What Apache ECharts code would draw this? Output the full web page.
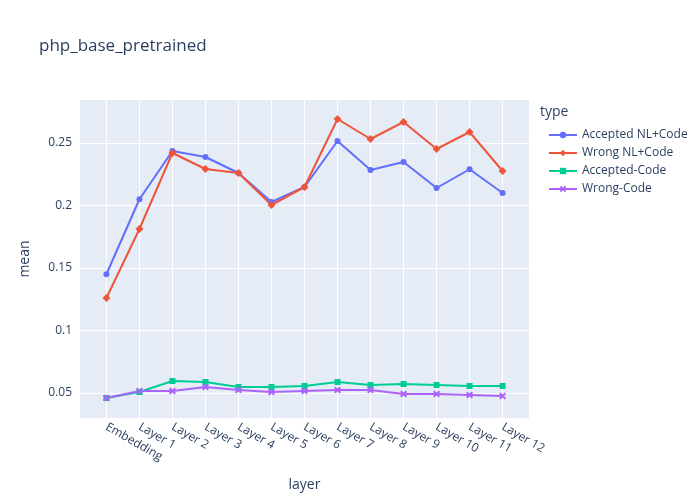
<!DOCTYPE html>
<html>
<head>
<meta charset="utf-8">
<script src="https://cdn.jsdelivr.net/npm/echarts@6/dist/echarts.min.js"></script>
<style>html,body{margin:0;padding:0;background:#fff}#chart{width:700px;height:500px}</style>
</head>
<body>
<div id="chart"></div>
<script>
const layers = ['Embedding', 'Layer 1', 'Layer 2', 'Layer 3', 'Layer 4', 'Layer 5', 'Layer 6',
  'Layer 7', 'Layer 8', 'Layer 9', 'Layer 10', 'Layer 11', 'Layer 12'];
const acceptedNL = [0.145, 0.205, 0.2436, 0.2388, 0.226, 0.2028, 0.2148, 0.2516, 0.2284, 0.2348, 0.214, 0.229, 0.21];
const wrongNL = [0.126, 0.1812, 0.242, 0.2292, 0.226, 0.2004, 0.2148, 0.2692, 0.2532, 0.2668, 0.2452, 0.2588, 0.2276];
const acceptedCode = [0.046, 0.0508, 0.0596, 0.0588, 0.0548, 0.0548, 0.0556, 0.0588, 0.0564, 0.0572, 0.0564, 0.0556, 0.0556];
const wrongCode = [0.046, 0.0516, 0.0516, 0.0548, 0.0524, 0.0508, 0.0516, 0.0524, 0.0524, 0.0492, 0.0492, 0.0484, 0.0476];
const yTicks = [0.05, 0.1, 0.15, 0.2, 0.25];

const xPath = 'path://M0,2 L2,0 L5,3 L8,0 L10,2 L7,5 L10,8 L8,10 L5,7 L2,10 L0,8 L3,5 Z';

function mk(name, data, color, symbol, size) {
  return {
    name: name, type: 'line', data: data.map((v, i) => [i, v]),
    symbol: symbol, symbolSize: size, showSymbol: true,
    itemStyle: { color: color }, lineStyle: { color: color, width: 2 },
    emphasis: { disabled: true }
  };
}

const chart = echarts.init(document.getElementById('chart'));
chart.setOption({
  animation: false,
  textStyle: { fontFamily: 'Open Sans, Arial, sans-serif' },
  title: {
    text: 'php_base_pretrained', left: 34, top: 33,
    textStyle: { fontSize: 17, fontWeight: 'normal', color: '#2a3f5f' }
  },
  legend: {
    orient: 'vertical', left: 543, top: 124, itemGap: 6,
    itemWidth: 28, itemHeight: 8,
    textStyle: { fontSize: 12, color: '#2a3f5f' },
    data: ['Accepted NL+Code', 'Wrong NL+Code', 'Accepted-Code', 'Wrong-Code']
  },
  graphic: [{
    type: 'text', left: 540, top: 105,
    style: { text: 'type', fontSize: 14, fill: '#2a3f5f', fontFamily: 'Open Sans, Arial, sans-serif' }
  }],
  grid: { left: 80, right: 171, top: 100, bottom: 82, show: true, backgroundColor: '#e5ecf6', borderWidth: 0 },
  xAxis: {
    type: 'value', min: -0.8, max: 12.8,
    name: 'layer', nameLocation: 'middle', nameGap: 60,
    nameTextStyle: { fontSize: 14, color: '#2a3f5f' },
    axisLine: { show: false }, axisTick: { show: false, customValues: layers.map((_, i) => i) },
    axisLabel: {
      customValues: layers.map((_, i) => i), rotate: -30, fontSize: 12, color: '#2a3f5f',
      formatter: v => layers[Math.round(v)]
    },
    splitLine: { show: true, lineStyle: { color: '#fff', width: 1 } }
  },
  yAxis: {
    type: 'value', min: 0.03, max: 0.2844,
    name: 'mean', nameLocation: 'middle', nameGap: 48,
    nameTextStyle: { fontSize: 14, color: '#2a3f5f' },
    axisLine: { show: false }, axisTick: { show: false, customValues: yTicks },
    axisLabel: { customValues: yTicks, fontSize: 12, color: '#2a3f5f', formatter: v => String(+v.toFixed(2)) },
    splitLine: { show: true, lineStyle: { color: '#fff', width: 1 } }
  },
  series: [
    mk('Accepted NL+Code', acceptedNL, '#636efa', 'circle', 6),
    mk('Wrong NL+Code', wrongNL, '#EF553B', 'diamond', 8),
    mk('Accepted-Code', acceptedCode, '#00cc96', 'rect', 6),
    mk('Wrong-Code', wrongCode, '#ab63fa', xPath, 7)
  ]
});
</script>
</body>
</html>
